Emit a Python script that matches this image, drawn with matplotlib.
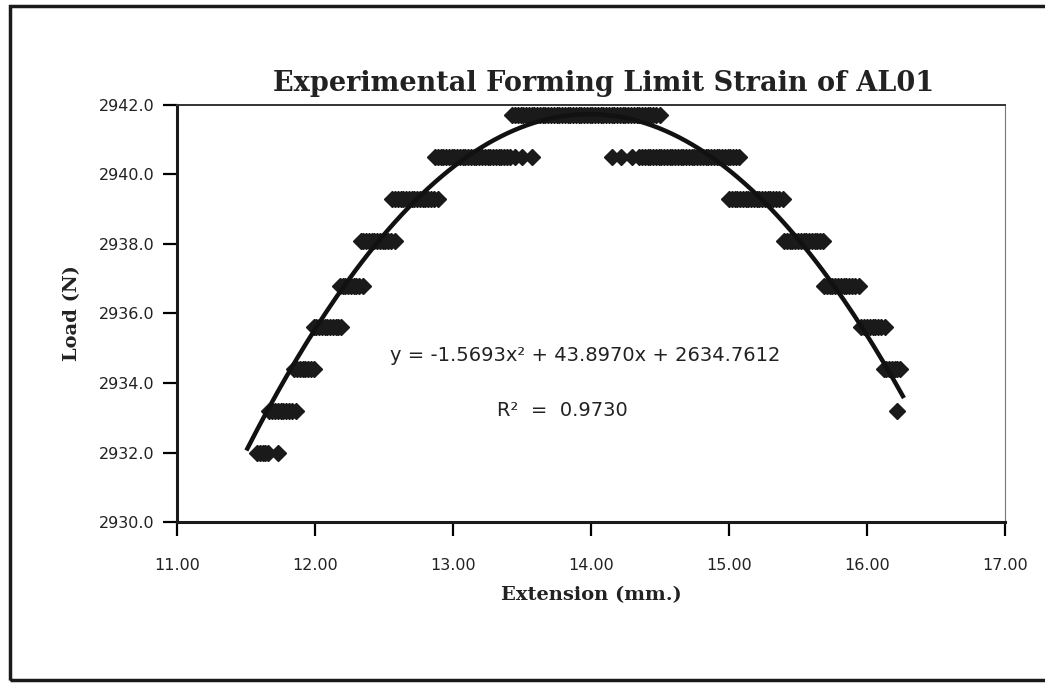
#!/usr/bin/env python3
# load vs extension chart, stepped readings + quadratic trendline
import matplotlib
matplotlib.use("Agg")
import matplotlib.pyplot as plt
from matplotlib.patches import Rectangle
import numpy as np

# load levels (N) and the extension readings (mm) taken at each level
loads = [2932.0, 2933.2, 2934.4, 2935.6, 2936.8, 2938.1, 2939.3, 2940.5,
         2941.7, 2940.5, 2939.3, 2938.1, 2936.8, 2935.6, 2934.4, 2933.2]
ext_steps = [
    [11.58, 11.60, 11.62, 11.64, 11.66, 11.73],
    [11.67, 11.69, 11.71, 11.73, 11.75, 11.77, 11.79, 11.81, 11.83, 11.86],
    [11.85, 11.87, 11.89, 11.91, 11.93, 11.95, 11.97, 11.99],
    [11.99, 12.01, 12.03, 12.05, 12.07, 12.09, 12.11, 12.13, 12.15, 12.17,
     12.19],
    [12.18, 12.20, 12.22, 12.24, 12.26, 12.28, 12.30, 12.32, 12.35],
    [12.33, 12.35, 12.37, 12.39, 12.41, 12.43, 12.45, 12.47, 12.49, 12.51,
     12.53, 12.55, 12.58],
    [12.56, 12.58, 12.60, 12.62, 12.64, 12.66, 12.68, 12.70, 12.72, 12.74,
     12.76, 12.78, 12.80, 12.82, 12.84, 12.86, 12.89],
    [12.87, 12.89, 12.91, 12.93, 12.95, 12.97, 12.99, 13.01, 13.03, 13.05,
     13.07, 13.09, 13.11, 13.13, 13.15, 13.17, 13.19, 13.21, 13.23, 13.25,
     13.27, 13.29, 13.31, 13.33, 13.35, 13.37, 13.39, 13.41, 13.45, 13.50,
     13.57],
    [13.43, 13.45, 13.47, 13.49, 13.51, 13.53, 13.55, 13.57, 13.59, 13.61,
     13.63, 13.65, 13.67, 13.69, 13.71, 13.73, 13.75, 13.77, 13.79, 13.81,
     13.83, 13.85, 13.87, 13.89, 13.91, 13.93, 13.95, 13.97, 13.99, 14.01,
     14.03, 14.05, 14.07, 14.09, 14.11, 14.13, 14.15, 14.17, 14.19, 14.21,
     14.23, 14.25, 14.27, 14.29, 14.31, 14.33, 14.35, 14.37, 14.39, 14.41,
     14.43, 14.45, 14.47, 14.50],
    [14.15, 14.22, 14.30, 14.35, 14.37, 14.39, 14.41, 14.43, 14.45, 14.47,
     14.49, 14.51, 14.53, 14.55, 14.57, 14.59, 14.61, 14.63, 14.65, 14.67,
     14.69, 14.71, 14.73, 14.75, 14.77, 14.79, 14.81, 14.83, 14.85, 14.87,
     14.89, 14.91, 14.93, 14.95, 14.97, 14.99, 15.01, 15.03, 15.05, 15.07],
    [15.00, 15.02, 15.04, 15.06, 15.08, 15.10, 15.12, 15.14, 15.16, 15.18,
     15.20, 15.22, 15.24, 15.26, 15.28, 15.30, 15.32, 15.34, 15.36, 15.39],
    [15.40, 15.42, 15.44, 15.46, 15.48, 15.50, 15.52, 15.54, 15.56, 15.58,
     15.60, 15.62, 15.64, 15.66, 15.68],
    [15.69, 15.71, 15.73, 15.75, 15.77, 15.79, 15.81, 15.83, 15.85, 15.87,
     15.89, 15.91, 15.94],
    [15.96, 15.98, 16.00, 16.02, 16.04, 16.06, 16.08, 16.10, 16.13],
    [16.12, 16.14, 16.16, 16.18, 16.20, 16.22, 16.24],
    [16.22],
]
# trendline coefficients as printed on the chart
coef = [-1.5693, 43.8970, 2634.7612]
r2 = 0.9730

fig = plt.figure(figsize=(10.45, 6.83), dpi=100)
ax = fig.add_axes([0.1694, 0.2357, 0.7923, 0.6106])

for load, xs in zip(loads, ext_steps):
    ax.plot(xs, [load] * len(xs), linestyle='none', marker='D',
            markersize=8, color='#1a1a1a', zorder=3)

xmin = min(min(s) for s in ext_steps)
xmax = max(max(s) for s in ext_steps)
xf = np.linspace(xmin - 0.07, xmax + 0.02, 200)
ax.plot(xf, np.polyval(coef, xf), color='#111111', linewidth=3.2, zorder=4)

ax.set_xlim(11, 17)
ax.set_ylim(2930, 2942)
ax.set_xticks(np.arange(11, 17.01, 1))
ax.set_yticks(np.arange(2930, 2942.01, 2))
ax.set_xticklabels([f"{v:.2f}" for v in np.arange(11, 17.01, 1)])
ax.set_yticklabels([f"{v:.1f}" for v in np.arange(2930, 2942.01, 2)])

for lab in ax.get_xticklabels() + ax.get_yticklabels():
    lab.set_fontfamily('DejaVu Sans')
    lab.set_fontsize(11.5)
    lab.set_color('#222222')
ax.tick_params(axis='x', direction='out', length=10, width=1.6, pad=16)
ax.tick_params(axis='y', direction='out', length=10, width=1.6, pad=6)

for s in ['left', 'bottom']:
    ax.spines[s].set_linewidth(2.2)
    ax.spines[s].set_color('#1a1a1a')
ax.spines['top'].set_linewidth(1.4)
ax.spines['top'].set_color('#333333')
ax.spines['right'].set_linewidth(0.8)
ax.spines['right'].set_color('#777777')

ax.set_title('Experimental Forming Limit Strain of AL01',
             fontfamily='DejaVu Serif', fontweight='bold', fontsize=19.5,
             color='#222222', pad=10, x=0.515)
ax.set_xlabel('Extension (mm.)', fontfamily='DejaVu Serif',
              fontweight='bold', fontsize=14, color='#222222', labelpad=9)
ax.set_ylabel('Load (N)', fontfamily='DejaVu Serif',
              fontweight='bold', fontsize=14, color='#222222', labelpad=13)

ax.text(0.257, 0.40,
        f"y = {coef[0]:.4f}x² + {coef[1]:.4f}x + {coef[2]:.4f}",
        transform=ax.transAxes, fontfamily='DejaVu Sans', fontsize=14,
        color='#222222', va='center')
ax.text(0.387, 0.268, f"R²  =  {r2:.4f}",
        transform=ax.transAxes, fontfamily='DejaVu Sans', fontsize=14,
        color='#222222', va='center')

# outer chart frame
fig.patches.append(Rectangle((10 / 1045, 3 / 683), 1.0, 674 / 683,
                             transform=fig.transFigure, fill=False,
                             edgecolor='#1a1a1a', linewidth=2.5))

fig.savefig('out.png', dpi=100)
